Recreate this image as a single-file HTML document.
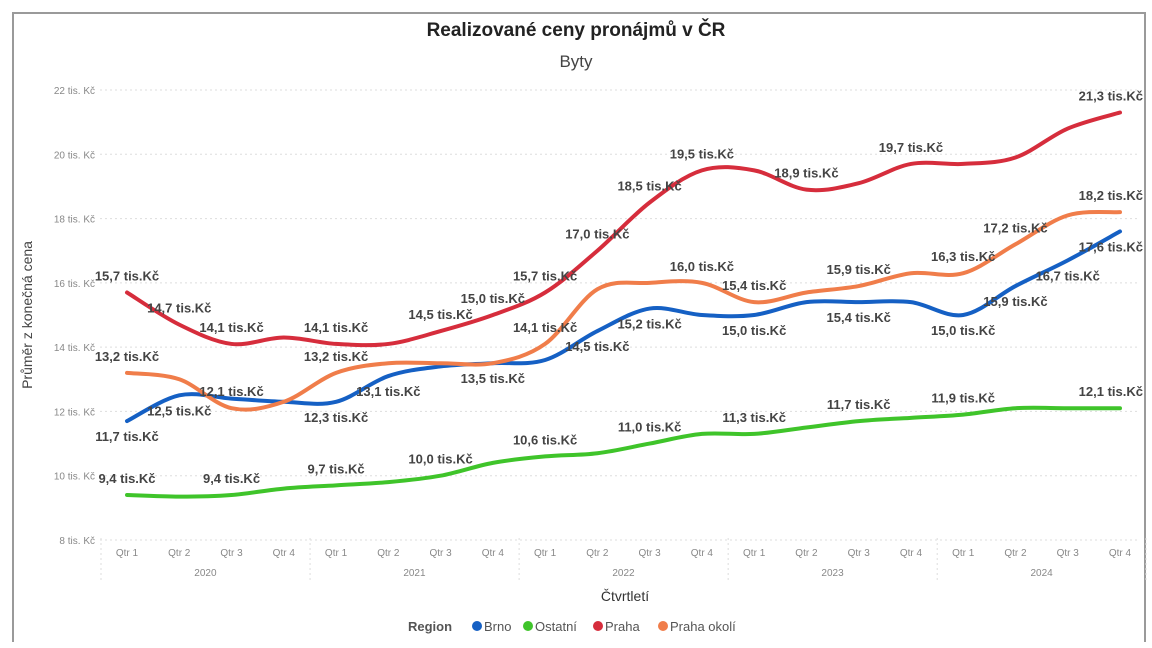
<!DOCTYPE html>
<html><head><meta charset="utf-8"><style>
html,body{margin:0;padding:0;background:#fff;}
body{width:1152px;height:648px;overflow:hidden;font-family:"Liberation Sans",sans-serif;}
#frame{position:absolute;left:12px;top:12px;width:1134px;height:630px;border:2px solid #9a9a9a;border-bottom:none;box-sizing:border-box;}
svg{position:absolute;left:0;top:0;}
</style></head><body>
<div id="frame"></div>
<svg id="chart" width="1152" height="648"></svg>
<script>
const quarters=["Qtr 1","Qtr 2","Qtr 3","Qtr 4"];
const years=["2020","2021","2022","2023","2024"];
const yTicks=[8,10,12,14,16,18,20,22];
const seriesNames=["Brno","Ostatní","Praha","Praha okolí"];
const seriesColors=["#1560c4","#3fc42a","#d62d3c","#f07d4a"];
const brno=[11.7,12.5,12.4,12.3,12.3,13.1,13.4,13.5,13.6,14.5,15.2,15.0,15.0,15.4,15.4,15.4,15.0,15.9,16.7,17.6];
const ostatni=[9.4,9.35,9.4,9.6,9.7,9.8,10.0,10.4,10.6,10.7,11.0,11.3,11.3,11.5,11.7,11.8,11.9,12.1,12.1,12.1];
const praha=[15.7,14.7,14.1,14.3,14.1,14.1,14.5,15.0,15.7,17.0,18.5,19.5,19.5,18.9,19.1,19.7,19.7,19.9,20.8,21.3];
const okoli=[13.2,13.0,12.1,12.3,13.2,13.5,13.5,13.5,14.1,15.8,16.0,16.0,15.4,15.7,15.9,16.3,16.3,17.2,18.1,18.2];
const brnoLabels=[0,1,4,5,7,9,10,12,14,16,17,18,19];
const ostatniLabels=[0,2,4,6,8,10,12,14,16,19];
const prahaLabels=[0,1,2,4,6,7,8,9,10,11,13,15,19];
const okoliLabels=[0,2,4,8,11,12,14,16,17,19];

const svg=document.getElementById('chart');
const NS="http://www.w3.org/2000/svg";
const x0=127,x1=1120,yBase=540,yTop=90,vMin=8,vMax=22;
function xs(i){return x0+i*(x1-x0)/19;}
function ys(v){return yBase-(v-vMin)*(yBase-yTop)/(vMax-vMin);}
function mk(tag,attrs,txt){const e=document.createElementNS(NS,tag);for(const k in attrs)e.setAttribute(k,attrs[k]);if(txt!==undefined)e.textContent=txt;svg.appendChild(e);return e;}

let t=mk('text',{x:576,y:36,'text-anchor':'middle','font-size':19,'font-weight':'bold',fill:'#222'},'Realizované ceny pronájmů v ČR');


t=mk('text',{x:576,y:67,'text-anchor':'middle','font-size':17,fill:'#444'},'Byty');



yTicks.forEach(v=>{
  const g=mk('line',{x1:100,x2:1140,y1:ys(v),y2:ys(v),stroke:'#ddd','stroke-dasharray':'2,3','stroke-width':1});
  
  
  const l=mk('text',{x:95,y:ys(v)+4,'text-anchor':'end','font-size':10,fill:'#888'},v+' tis. Kč');
  
  
});
t=mk('text',{x:0,y:0,transform:'translate(32,315) rotate(-90)','text-anchor':'middle','font-size':14,fill:'#444'},'Průměr z konečná cena');



for(let i=0;i<20;i++){
  const l=mk('text',{x:xs(i),y:556,'text-anchor':'middle','font-size':10,fill:'#888'},quarters[i%4]);
  
  
}
years.forEach((yr,j)=>{
  const l=mk('text',{x:(xs(j*4)+xs(j*4+3))/2,y:576,'text-anchor':'middle','font-size':10,fill:'#888'},yr);
  
  
  const s=mk('line',{x1:xs(j*4)-26,x2:xs(j*4)-26,y1:538,y2:582,stroke:'#ddd','stroke-dasharray':'2,3'});
  
  
});
const s2=mk('line',{x1:xs(19)+26,x2:xs(19)+26,y1:538,y2:582,stroke:'#ddd','stroke-dasharray':'2,3'});


t=mk('text',{x:625,y:601,'text-anchor':'middle','font-size':14,fill:'#333'},'Čtvrtletí');



function pathFor(vals){
  const p=vals.map((v,i)=>[xs(i),ys(v)]);
  let d='M'+p[0][0]+','+p[0][1];
  for(let i=0;i<p.length-1;i++){
    const a=p[Math.max(0,i-1)],b=p[i],c=p[i+1],e=p[Math.min(p.length-1,i+2)];
    const c1=[b[0]+(c[0]-a[0])/6,b[1]+(c[1]-a[1])/6],c2=[c[0]-(e[0]-b[0])/6,c[1]-(e[1]-b[1])/6];
    d+=' C'+c1[0]+','+c1[1]+' '+c2[0]+','+c2[1]+' '+c[0]+','+c[1];
  }
  return d;
}
const allSeries=[brno,ostatni,praha,okoli];
const allLabels=[brnoLabels,ostatniLabels,prahaLabels,okoliLabels];
const labelDy=[20,-12,-12,-12];
const lineNames=['line-brno','line-ostatni','line-praha','line-praha-okoli'];
allSeries.forEach((vals,k)=>{
  const p=mk('path',{d:pathFor(vals),fill:'none',stroke:seriesColors[k],'stroke-width':4,'stroke-linecap':'round'});
  
  
});
allSeries.forEach((vals,k)=>{
  allLabels[k].forEach(i=>{
    const last=i===vals.length-1;
    const l=mk('text',{x:last?1143:xs(i),y:ys(vals[i])+labelDy[k],'text-anchor':last?'end':'middle','font-size':13,'font-weight':'bold',fill:'#444'},vals[i].toFixed(1).replace('.',',')+' tis.Kč');
    
    
  });
});

t=mk('text',{x:408,y:631,'font-size':13,'font-weight':'bold',fill:'#555'},'Region');


const legX=[477,528,598,663];
seriesNames.forEach((n,k)=>{
  const c=mk('circle',{cx:legX[k],cy:626,r:5,fill:seriesColors[k]});
  
  
  const l=mk('text',{x:legX[k]+7,y:631,'font-size':13,fill:'#555'},n);
  
  
});
</script>
</body></html>
